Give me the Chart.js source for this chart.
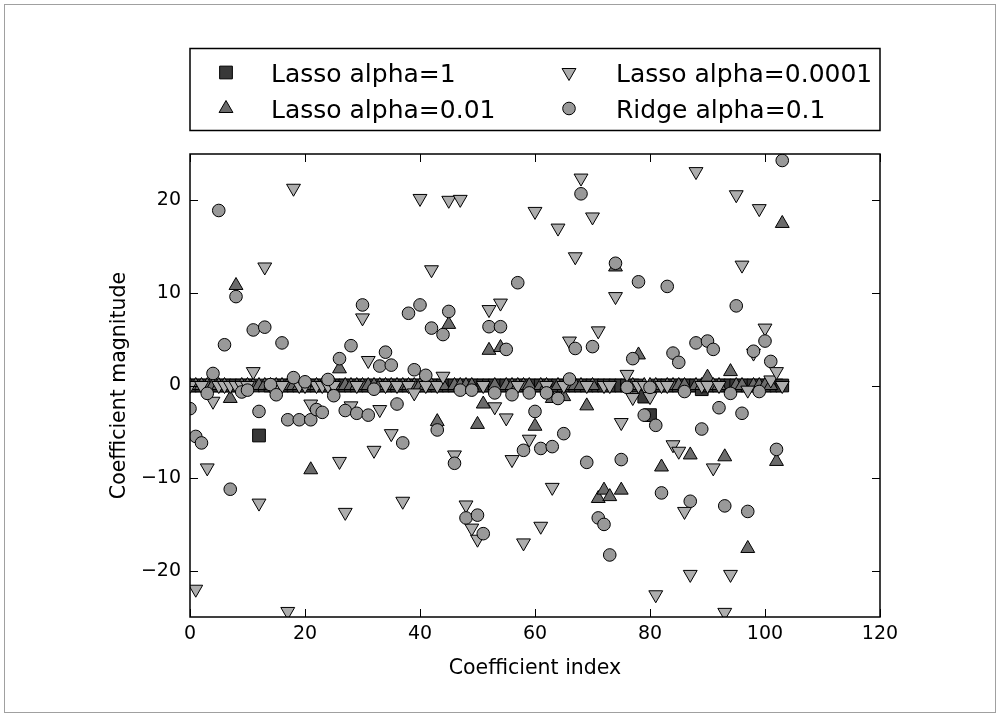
<!DOCTYPE html>
<html>
<head>
<meta charset="utf-8">
<title>Coefficient magnitude</title>
<script src="https://cdn.jsdelivr.net/npm/chart.js@4/dist/chart.umd.min.js"></script>
<style>
  html, body { margin: 0; padding: 0; background: #fff; }
  #wrap { position: relative; width: 1001px; height: 717px; }
  #frame { position: absolute; left: 4px; top: 4px; right: 5px; bottom: 4px; border: 1px solid #a0a0a0; pointer-events: none; }
</style>
</head>
<body>
<div id="wrap">
  <canvas id="coefChart"></canvas>
  <div id="frame"></div>
</div>
<script>
// coefficient values per feature (104 features)
const lasso1Coef = [
  0, 0, 0, 0, 0, 0, 0, 0, 0, 0,
  0, 0, -5.4, 0, 0, 0, 0, 0, 0, 0,
  0, 0, 0, 0, 0, 0, 0, 0, 0, 0,
  0, 0, 0, 0, 0, 0, 0, 0, 0, 0,
  0, 0, 0, 0, 0, 0, 0, 0, 0, 0,
  0, 0, 0, 0, 0, 0, 0, 0, 0, 0,
  0, 0, 0, 0, 0, 0, 0, 0, 0, 0,
  0, 0, 0, 0, 0, 0, 0, 0, 0, -1.2,
  -3.2, 0, 0, 0, 0, 0, 0, 0, 0, -0.4,
  0, 0, 0, 0, 0, 0, 0, 0, 0, 0,
  0, 0, 0, 0,
];

const lasso01Coef = [
  0, 0, 0, 0, 0, 0, 0, -1.4, 10.8, 0,
  0, 0, 0, 0, 0, 0, 0, 0, 0, 0,
  0, -9.1, 0, 0, 0, 0, 1.8, 0, 0, 0,
  0, 0, 0, 0, 0, 0, 0, 0, 0, 0,
  0, 0, 0, -3.9, 0, 6.6, 0, 0, 0, 0,
  -4.2, -2.0, 3.8, 0, 4.1, 0, 0, 0, 0, 0,
  -4.4, 0, 0, -1.4, 0, -1.2, 0, 0, 0, -2.2,
  0, -12.2, -11.3, -12.0, 12.8, -11.3, 0, 0, 3.3, 0,
  0, 0, -8.8, 0, 0, 0, 0, -7.5, 0, 0,
  0.9, 0, 0, -7.7, 1.5, 0, 0, -17.6, 0, 0,
  0, 0, -8.2, 17.5,
];

const lasso0001Coef = [
  0, -22.0, 0, -8.9, -1.7, 0, 0, 0, 0, 0,
  0, 1.5, -12.7, 12.8, 0, 0, 0, -24.4, 21.3, 0,
  0, -2.0, 0, 0, 0, 0, -8.2, -13.7, -2.2, 0,
  7.3, 2.7, -7.0, -2.6, 0, -5.2, 0, -12.5, 0, -0.8,
  20.2, 0, 12.5, 0, 1.0, 20.0, -7.5, 20.1, -12.9, -15.4,
  -16.6, 0, 8.2, -2.3, 8.9, -3.5, -8.0, 0, -17.0, -5.8,
  18.8, -15.2, 0, -11.0, 17.0, 0, 4.8, 13.9, 22.4, 0,
  18.2, 5.9, 0, 0, 9.6, -4.0, 1.2, -1.3, 0, 0,
  -1.2, -22.6, 0, 0, -6.4, -7.1, -13.6, -20.4, 23.1, 0,
  0, -8.9, 0, -24.5, -20.4, 20.6, 13.0, -0.5, 3.5, 19.1,
  6.2, 0.6, 1.5, 0,
];

const ridgeCoef = [
  -2.5, -5.5, -6.2, -0.85, 1.3, 18.9, 4.4, -11.2, 9.6, -0.7,
  -0.5, 6.0, -2.8, 6.3, 0.1, -1.0, 4.6, -3.7, 0.85, -3.7,
  0.4, -3.7, -2.6, -2.9, 0.65, -1.1, 2.9, -2.7, 4.3, -3.0,
  8.7, -3.2, -0.4, 2.1, 3.6, 2.2, -2.0, -6.2, 7.8, 1.7,
  8.7, 1.1, 6.2, -4.8, 5.5, 8.0, -8.4, -0.5, -14.3, -0.5,
  -14.0, -16.0, 6.35, -0.8, 6.35, 3.9, -1.0, 11.1, -7.0, -0.8,
  -2.8, -6.8, -0.8, -6.6, -1.4, -5.2, 0.7, 4.0, 20.7, -8.3,
  4.2, -14.3, -15.0, -18.3, 13.2, -8.0, -0.2, 2.9, 11.2, -3.2,
  -0.2, -4.3, -11.6, 10.7, 3.5, 2.5, -0.65, -12.5, 4.6, -4.7,
  4.8, 3.9, -2.4, -13.0, -0.85, 8.6, -3.0, -13.6, 3.7, -0.65,
  4.8, 2.6, -6.9, 24.3,
];

const xTicks = [0, 20, 40, 60, 80, 100, 120];
const yTicks = [-20, -10, 0, 10, 20];

const FONT = "'DejaVu Sans', sans-serif";

function toPoints(values) {
  return values.map((v, i) => ({ x: i, y: v }));
}

// legend entries, column-major like a 2-column matplotlib legend
const legendItems = [
  { label: 'Lasso alpha=1', style: 'rect', rotation: 0, radius: 9, fill: '#383838', col: 0, row: 0 },
  { label: 'Lasso alpha=0.01', style: 'triangle', rotation: 0, radius: 8, fill: '#6b6b6b', col: 0, row: 1 },
  { label: 'Lasso alpha=0.0001', style: 'triangle', rotation: 180, radius: 8, fill: '#adadad', col: 1, row: 0 },
  { label: 'Ridge alpha=0.1', style: 'circle', rotation: 0, radius: 6.3, fill: '#999999', col: 1, row: 1 },
];

function drawMarker(ctx, item, x, y) {
  const r = item.radius;
  ctx.save();
  ctx.fillStyle = item.fill;
  ctx.strokeStyle = '#000';
  ctx.lineWidth = 1;
  ctx.beginPath();
  if (item.style === 'circle') {
    ctx.arc(x, y, r, 0, Math.PI * 2);
  } else if (item.style === 'rect') {
    const s = Math.SQRT1_2 * r;
    ctx.rect(x - s, y - s, 2 * s, 2 * s);
  } else {
    let rad = item.rotation * Math.PI / 180;
    for (let k = 0; k < 3; k++) {
      const px = x + Math.sin(rad) * r;
      const py = y - Math.cos(rad) * r;
      if (k === 0) ctx.moveTo(px, py); else ctx.lineTo(px, py);
      rad += 2 * Math.PI / 3;
    }
    ctx.closePath();
  }
  ctx.fill();
  ctx.stroke();
  ctx.restore();
}

const decorations = {
  id: 'decorations',
  afterDraw(chart) {
    const { ctx, chartArea: a, scales } = chart;
    ctx.save();

    // axes frame
    ctx.strokeStyle = '#000';
    ctx.lineWidth = 1.5;
    ctx.strokeRect(a.left, a.top, a.right - a.left, a.bottom - a.top);

    // inward tick marks on all four sides
    const tl = 8;
    ctx.lineWidth = 1;
    ctx.beginPath();
    xTicks.forEach((v) => {
      const x = Math.round(scales.x.getPixelForValue(v)) + 0.5;
      ctx.moveTo(x, a.bottom); ctx.lineTo(x, a.bottom - tl);
      ctx.moveTo(x, a.top); ctx.lineTo(x, a.top + tl);
    });
    yTicks.forEach((v) => {
      const y = Math.round(scales.y.getPixelForValue(v)) + 0.5;
      ctx.moveTo(a.left, y); ctx.lineTo(a.left + tl, y);
      ctx.moveTo(a.right, y); ctx.lineTo(a.right - tl, y);
    });
    ctx.stroke();

    // axis titles
    ctx.fillStyle = '#000';
    ctx.font = '20.5px ' + FONT;
    ctx.textAlign = 'center';
    ctx.textBaseline = 'alphabetic';
    ctx.fillText('Coefficient index', (a.left + a.right) / 2, 674);
    ctx.save();
    ctx.translate(125, (a.top + a.bottom) / 2);
    ctx.rotate(-Math.PI / 2);
    ctx.fillText('Coefficient magnitude', 0, 0);
    ctx.restore();

    // legend box
    ctx.lineWidth = 1.5;
    ctx.strokeRect(a.left, 48.5, a.right - a.left, 82);
    const markerX = [226, 569];
    const textX = [271, 616];
    const rowY = [72.5, 108.5];
    ctx.font = '25px ' + FONT;
    ctx.textAlign = 'left';
    legendItems.forEach((item) => {
      drawMarker(ctx, item, markerX[item.col], rowY[item.row]);
      ctx.fillText(item.label, textX[item.col], rowY[item.row] + 9);
    });

    ctx.restore();
  },
};

const tickFont = { family: FONT, size: 19 };

new Chart(document.getElementById('coefChart').getContext('2d'), {
  type: 'scatter',
  data: {
    datasets: [
      {
        label: legendItems[0].label,
        data: toPoints(lasso1Coef),
        pointStyle: 'rect',
        pointRadius: 9,
        backgroundColor: legendItems[0].fill,
        borderColor: '#000',
        borderWidth: 1,
        order: 4,
      },
      {
        label: legendItems[1].label,
        data: toPoints(lasso01Coef),
        pointStyle: 'triangle',
        pointRadius: 8,
        backgroundColor: legendItems[1].fill,
        borderColor: '#000',
        borderWidth: 1,
        order: 3,
      },
      {
        label: legendItems[2].label,
        data: toPoints(lasso0001Coef),
        pointStyle: 'triangle',
        pointRotation: 180,
        pointRadius: 8,
        backgroundColor: legendItems[2].fill,
        borderColor: '#000',
        borderWidth: 1,
        order: 2,
      },
      {
        label: legendItems[3].label,
        data: toPoints(ridgeCoef),
        pointStyle: 'circle',
        pointRadius: 6.3,
        backgroundColor: legendItems[3].fill,
        borderColor: '#000',
        borderWidth: 1,
        order: 1,
      },
    ],
  },
  options: {
    responsive: true,
    maintainAspectRatio: false,
    animation: false,
    events: [],
    layout: {
      padding: { left: 0, top: 154, right: 121, bottom: 0 },
    },
    plugins: {
      legend: { display: false },
      tooltip: { enabled: false },
    },
    scales: {
      x: {
        type: 'linear',
        min: 0,
        max: 120,
        grid: { display: false, drawTicks: false },
        border: { display: false },
        ticks: { font: tickFont, color: '#000', padding: 6, maxRotation: 0 },
        afterBuildTicks: (scale) => {
          scale.ticks = xTicks.map((v) => ({ value: v }));
        },
        afterFit: (scale) => {
          scale.height = 100;
        },
      },
      y: {
        type: 'linear',
        min: -25,
        max: 25,
        grid: { display: false, drawTicks: false },
        border: { display: false },
        ticks: {
          font: tickFont,
          color: '#000',
          padding: 9,
          callback: (v) => (v < 0 ? '\u2212' + Math.abs(v) : String(v)),
        },
        afterBuildTicks: (scale) => {
          scale.ticks = yTicks.map((v) => ({ value: v }));
        },
        afterFit: (scale) => {
          scale.width = 190;
        },
      },
    },
  },
  plugins: [decorations],
});
</script>
</body>
</html>
